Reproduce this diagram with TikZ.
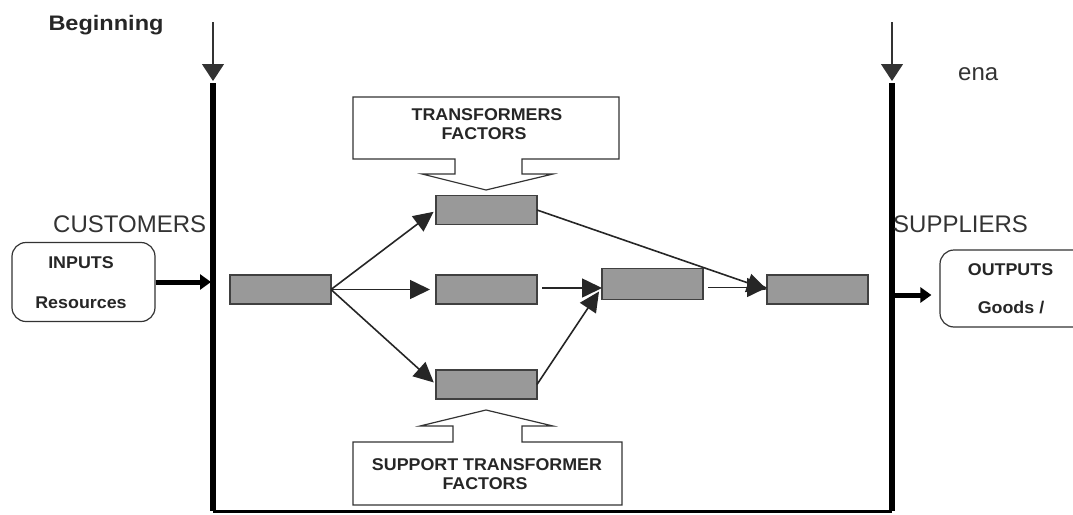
\documentclass[tikz,border=0pt]{standalone}
\usepackage{fontspec}
\setmainfont{Liberation Sans}
\usetikzlibrary{arrows.meta}
\begin{document}
\begin{tikzpicture}[x=1pt,y=-1pt,
  grayblk/.style={draw=black!75,line width=1.6pt,fill=black!40,minimum width=101pt,minimum height=29pt,inner sep=0pt,outer sep=0pt},
  flow/.style={draw=black!85,line width=1.6pt,-{Triangle[length=20pt,width=19pt]}},
  lbl/.style={font=\bfseries\fontsize{17}{20}\selectfont,xscale=1.05,text=black!85,inner sep=0pt,anchor=base},
  big/.style={font=\fontsize{24}{28}\selectfont,inner sep=0pt,text=black!80,anchor=base west},
  rbox/.style={draw=black!80,line width=1.2pt,rounded corners=14pt,inner sep=0pt},
  callout/.style={draw=black!80,line width=1.2pt,line join=miter},
  wall/.style={line width=5.5pt,black},
  thinarr/.style={line width=1.2pt,black!80,-{Triangle[length=17pt,width=22pt]}},
  fat/.style={line width=5pt,black,-{Triangle[length=11pt,width=15pt]}}]
\clip (0,0) rectangle (1073,514);
% walls
\coordinate (ltop) at (213,22);
\coordinate (lhead) at (213,81);
\coordinate (lwt) at (213,83);
\coordinate (lwb) at (213,511);
\coordinate (rtop) at (892,22);
\coordinate (rhead) at (892,81);
\coordinate (rwt) at (892,83);
\coordinate (rwb) at (892,511);
\draw[thinarr] (ltop) -- (lhead);
\draw[thinarr] (rtop) -- (rhead);
\draw[wall] (lwt) -- (lwb);
\draw[wall] (rwt) -- (rwb);
\draw[line width=3pt] (lwb) -- (rwb);
% texts
\node[anchor=base,font=\bfseries\fontsize{21}{24}\selectfont,xscale=1.12,text=black!85,inner sep=0pt] (beg) at (106,30) {Beginning};
\node[big] (ena) at (958,80) {ena};
\node[big] (cust) at (53,232) {CUSTOMERS};
\node[big] (supp) at (893,232) {SUPPLIERS};
% input / output boxes
\node[rbox,minimum width=143pt,minimum height=79pt] (inbox) at (83.5,282) {};
\node[lbl] (inputs) at (81,268) {INPUTS};
\node[lbl] (res) at (81,308) {Resources};
\node[rbox,minimum width=170pt,minimum height=77pt] (outbox) at (1025,288.5) {};
\node[lbl] (outputs) at (1010.5,275) {OUTPUTS};
\node[lbl] (goods) at (1011,313) {Goods /};
\coordinate (lin) at (211,282);
\coordinate (rout) at (894,295);
\draw[fat] (inbox.east) -- (lin);
\draw[fat,shorten >=8pt] (rout) -- ([yshift=-6.5pt]outbox.west);
% gray blocks
\node[grayblk] (r1) at (280.5,289.5) {};
\node[grayblk] (t) at (486.5,210) {};
\node[grayblk] (m) at (486.5,289.5) {};
\node[grayblk] (b) at (486.5,384.5) {};
\node[grayblk,minimum height=31pt] (r4) at (652.5,284) {};
\node[grayblk] (r5) at (817.5,289.5) {};
% flows
\draw[flow,shorten >=3pt] (r1.east) -- (t.west);
\draw[flow,shorten >=6pt] (r1.east) -- (m.west);
\draw[flow,shorten >=3pt] (r1.east) -- (b.west);
\draw[flow,shorten <=5pt] ([yshift=1.5pt]m.east) -- ([yshift=1.5pt]m.east -| r4.west);
\draw[flow] (b.east) -- ([xshift=-3pt,yshift=8pt]r4.south west);
\draw[flow] (t.east) -- (r5.west);
\draw[flow,shorten <=5pt] ([yshift=2pt]r4.east |- r5.west) -- ([yshift=2pt]r5.west);
% callouts
\draw[callout] (353,97) -- (619,97) -- (619,159) -- (522,159) -- (522,174) -- (553,174) -- (486,190) -- (422,174) -- (455,174) -- (455,159) -- (353,159) -- cycle;
\node[lbl] (tf1) at (487,120) {TRANSFORMERS};
\node[lbl] (tf2) at (484,139) {FACTORS};
\draw[callout] (353,505) -- (622,505) -- (622,442) -- (522,442) -- (522,426) -- (553,426) -- (486,410) -- (420,426) -- (453,426) -- (453,442) -- (353,442) -- cycle;
\node[lbl] (sf1) at (487,470) {SUPPORT TRANSFORMER};
\node[lbl] (sf2) at (485,489) {FACTORS};
\end{tikzpicture}
\end{document}
